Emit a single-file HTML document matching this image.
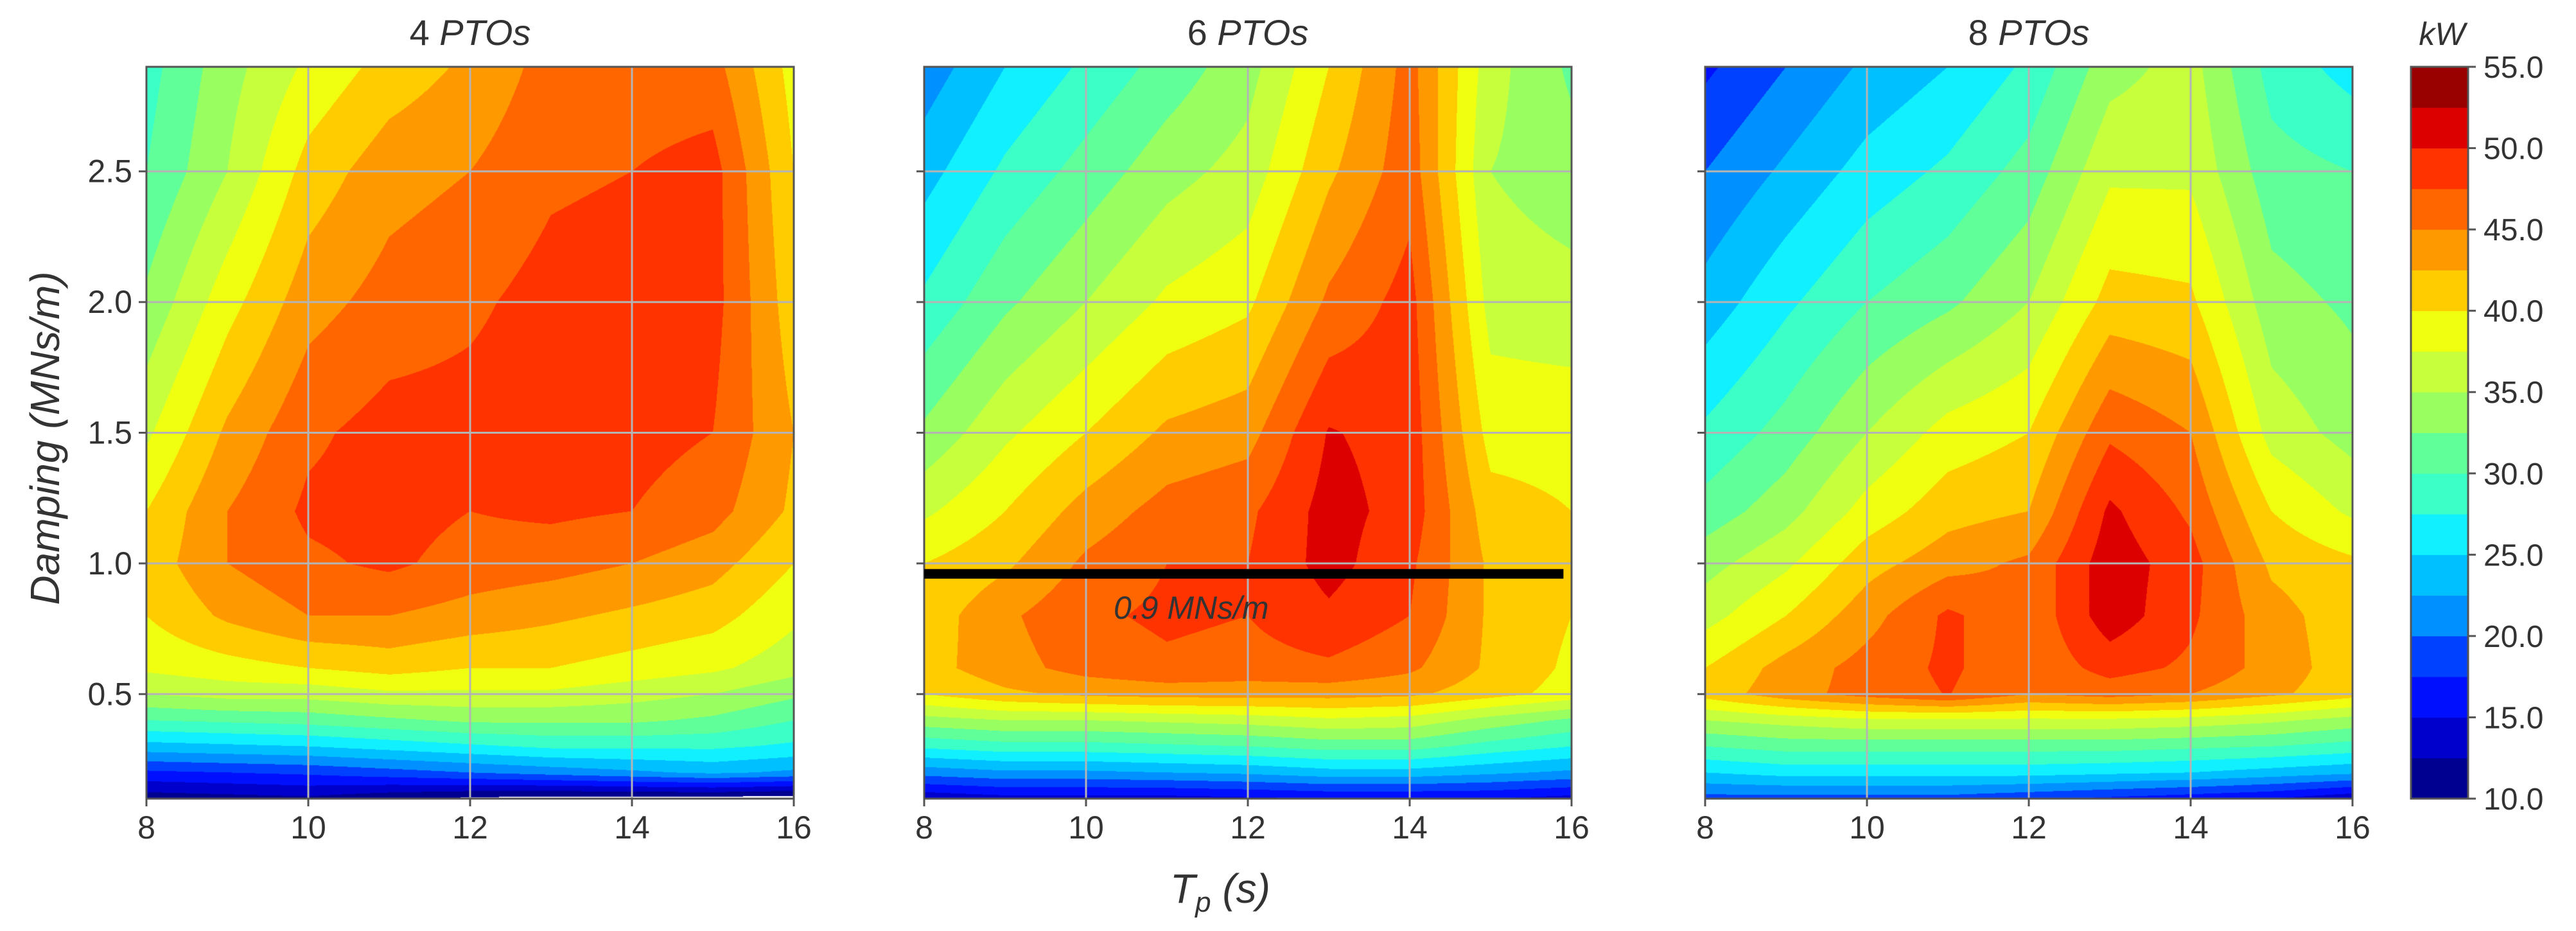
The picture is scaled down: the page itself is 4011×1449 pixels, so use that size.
<!DOCTYPE html>
<html><head><meta charset="utf-8">
<style>
html,body{margin:0;padding:0;background:#fff;}
#root{position:relative;width:4011px;height:1449px;overflow:hidden;background:#fff;}
canvas{position:absolute;}
svg{position:absolute;left:0;top:0;}
text{font-family:"Liberation Sans","DejaVu Sans",sans-serif;fill:#333;}
</style></head>
<body>
<div id="root">
<canvas id="c0" width="1008" height="1139" style="left:228px;top:104px"></canvas>
<canvas id="c1" width="1008" height="1139" style="left:1439px;top:104px"></canvas>
<canvas id="c2" width="1008" height="1139" style="left:2655px;top:104px"></canvas>
<svg id="ov" width="4011" height="1449"></svg>
</div>
<script>
// ---- data ----
const tpValues = [8,9,10,11,12,13,14,15,16];
const dampValues = [0.1,0.2,0.3,0.4,0.5,0.6,0.8,1.0,1.2,1.5,2.0,2.5,2.9];
// rows = damping (bottom->top), cols = Tp
const power4 = [
 [11,11.5,12,10.5,9.5,9,9,9,8.5],
 [17,17.5,18,19,20,21,22,23,22],
 [24,24.5,25,26,27,28,28,28,27],
 [30,30.5,31,32,33,33,33,32,30],
 [35,36,36,37,37,37,36,35,33],
 [38,39,40,41,40,40,39,38,36],
 [40,43,45,45,44,43,42,41,38],
 [41,45,47,48,46.5,46,45,43.5,40],
 [40,45,48,48.5,47.5,48,47.5,46,42],
 [37,43,47,48.5,48.5,49,48.5,47.5,42.5],
 [33,39,44,46,47,48.5,49,48.5,41],
 [30,35,41,44,45,47,47.5,48.5,40],
 [29,34,38,41,43,46,46,46,39]
];
const power6 = [
 [13,14,14,14,14.5,15,15,15,14],
 [21,22,22,22.5,23,24,24,23,22],
 [28,29,29,29.5,30,31,31,29,27.5],
 [34,35,35,35.5,36,37,36.5,34,32],
 [40,42,43,43.5,43.5,43.5,43,41,39],
 [41.5,44,46,47,46.5,47,45.5,42,39.5],
 [41,44.5,47,48,47.5,49.5,47.5,42,40],
 [40,42,45.5,47.5,47.5,51,48,42,40],
 [37,40,43.5,46,47,51,49,41,40],
 [33,37,40,43,44,50.2,49,39,39],
 [28,32,35,38,39.5,45.5,48.5,36.5,36],
 [24,28,31,34,36,42,46.5,35,33.5],
 [21,25,28,31,34,40,46,36,32]
];
const power8 = [
 [19,19,19,19,18,17,16,15,13],
 [25,26,26,26,26,25.5,25,24,23],
 [30,31,31,31,31,31,30.5,30,29],
 [35,36,37,37,37,37,36.5,35.5,34],
 [41,44,46,47.6,45,46,45,43,41],
 [40,43.5,46,48,45.5,48.5,47,44,41],
 [36.5,40,44,48,45.5,51.5,48,43.5,41],
 [34,37,41.5,44,45.5,51.5,48.5,42,40.5],
 [31,34,38.5,41.5,42.5,50.5,47,40,37],
 [28,31,35,38.5,40,47,45,36.5,34],
 [23.5,27,30,32,35,41,40.5,33.5,32],
 [20,23,26,28,31,37,37,31,30],
 [17,20,23,25,28,34,36,29,26.5]
];
const panelTitles = ["4","6","8"];
const levelStart = 10, levelStep = 2.5, levelCount = 18;
const bandColors = ["#000090","#0000cc","#0010ff","#0040ff","#0090ff","#00c0ff","#10f0ff","#3cffc8","#60ff99","#99ff60","#c8ff3c","#f0ff10","#ffcc00","#ff9900","#ff6600","#ff3300","#dd0000","#990000"];
const xTicks = [8,10,12,14,16];
const yTicks = [0.5,1.0,1.5,2.0,2.5];
const cbTicks = [10,15,20,25,30,35,40,45,50,55];
const refDamping = 0.96;

// ---- layout ----
const panelLeft = [228,1439,2655], PW = 1008, PT = 104, PB = 1243, PH = PB-PT;
const xMin=8,xMax=16,yMin=0.1,yMax=2.9;
function sx(p,v){return panelLeft[p]+(v-xMin)/(xMax-xMin)*PW;}
function sy(v){return PB-(v-yMin)/(yMax-yMin)*PH;}

function hexRGB(h){return [parseInt(h.substr(1,2),16),parseInt(h.substr(3,2),16),parseInt(h.substr(5,2),16)];}
const rgbBands = bandColors.map(hexRGB);
function seg(arr,v){for(let i=0;i<arr.length-1;i++){if(v<=arr[i+1])return i;}return arr.length-2;}
function interp(grid,tp,d){
  const i=seg(tpValues,tp), j=seg(dampValues,d);
  const tx=(tp-tpValues[i])/(tpValues[i+1]-tpValues[i]);
  const ty=Math.max(0,Math.min(1,(d-dampValues[j])/(dampValues[j+1]-dampValues[j])));
  const a=grid[j][i],b=grid[j][i+1],c=grid[j+1][i],e=grid[j+1][i+1];
  return a*(1-tx)*(1-ty)+b*tx*(1-ty)+c*(1-tx)*ty+e*tx*ty;
}
[power4,power6,power8].forEach((grid,p)=>{
  const cv=document.getElementById('c'+p), ctx=cv.getContext('2d');
  const img=ctx.createImageData(PW,PH), dat=img.data;
  for(let y=0;y<PH;y++){
    const d=yMax-(y+0.5)/PH*(yMax-yMin);
    for(let x=0;x<PW;x++){
      const tp=xMin+(x+0.5)/PW*(xMax-xMin);
      const v=interp(grid,tp,d);
      let col=[255,255,255];
      if(v>=levelStart){let k=Math.floor((v-levelStart)/levelStep);if(k>levelCount-1)k=levelCount-1;col=rgbBands[k];}
      const o=(y*PW+x)*4;dat[o]=col[0];dat[o+1]=col[1];dat[o+2]=col[2];dat[o+3]=255;
    }
  }
  ctx.putImageData(img,0,0);
});

// ---- overlay ----
const NS="http://www.w3.org/2000/svg", ov=document.getElementById('ov');
function el(tag,attrs,txt){const e=document.createElementNS(NS,tag);for(const k in attrs)e.setAttribute(k,attrs[k]);if(txt!==undefined)e.textContent=txt;ov.appendChild(e);return e;}

for(let p=0;p<3;p++){
  xTicks.forEach(t=>{const g=el('line',{x1:sx(p,t),x2:sx(p,t),y1:PT,y2:PB,stroke:'#b4b4b4','stroke-width':3});
    
    });
  yTicks.forEach(t=>{const g=el('line',{x1:panelLeft[p],x2:panelLeft[p]+PW,y1:sy(t),y2:sy(t),stroke:'#b4b4b4','stroke-width':3});
    
    });
  const fr=el('rect',{x:panelLeft[p],y:PT,width:PW,height:PH,fill:'none',stroke:'#555','stroke-width':3});
  
  
  xTicks.forEach(t=>{
    el('line',{x1:sx(p,t),x2:sx(p,t),y1:PB,y2:PB+12,stroke:'#555','stroke-width':3});
    const lb=el('text',{x:sx(p,t),y:PB+62,'font-size':50,'text-anchor':'middle'},String(t));
    
    
  });
  yTicks.forEach(t=>{
    el('line',{x1:panelLeft[p]-12,x2:panelLeft[p],y1:sy(t),y2:sy(t),stroke:'#555','stroke-width':3});
    if(p===0){const lb=el('text',{x:panelLeft[p]-22,y:sy(t)+17,'font-size':50,'text-anchor':'end'},t.toFixed(1));
      
      }
  });
  const tt=el('text',{x:panelLeft[p]+PW/2,y:70,'font-size':56,'text-anchor':'middle'});
  
  
  const s1=document.createElementNS(NS,'tspan');s1.textContent=panelTitles[p]+' ';tt.appendChild(s1);
  const s2=document.createElementNS(NS,'tspan');s2.setAttribute('font-style','italic');s2.textContent='PTOs';tt.appendChild(s2);
}
const rl=el('line',{x1:sx(1,8),x2:sx(1,15.9),y1:sy(refDamping),y2:sy(refDamping),stroke:'#000','stroke-width':15});


const rt=el('text',{x:sx(1,11.3),y:sy(refDamping)+70,'font-size':50,'text-anchor':'middle','font-style':'italic',fill:'#111'},'0.9 MNs/m');



const yl=el('text',{x:0,y:0,'font-size':64,'text-anchor':'middle','font-style':'italic',transform:'translate(92,682) rotate(-90)'},'Damping (MNs/m)');


const xl=el('text',{x:1900,y:1405,'font-size':64,'text-anchor':'middle','font-style':'italic'});


const xa=document.createElementNS(NS,'tspan');xa.textContent='T';xl.appendChild(xa);
const xb=document.createElementNS(NS,'tspan');xb.setAttribute('font-size','44');xb.setAttribute('dy','14');xb.textContent='p';xl.appendChild(xb);
const xc=document.createElementNS(NS,'tspan');xc.setAttribute('dy','-14');xc.textContent=' (s)';xl.appendChild(xc);

const cbL=3754, cbW=89, cbMin=10, cbMax=55;
function cy(v){return PB-(v-cbMin)/(cbMax-cbMin)*PH;}
for(let k=0;k<levelCount;k++){
  const lo=levelStart+k*levelStep, hi=lo+levelStep;
  const r=el('rect',{x:cbL,y:cy(hi),width:cbW,height:cy(lo)-cy(hi)+0.5,fill:bandColors[k]});
  
  
}
const cbf=el('rect',{x:cbL,y:PT,width:cbW,height:PH,fill:'none',stroke:'#555','stroke-width':3});


cbTicks.forEach(t=>{
  el('line',{x1:cbL+cbW,x2:cbL+cbW+12,y1:cy(t),y2:cy(t),stroke:'#555','stroke-width':3});
  const lb=el('text',{x:cbL+cbW+24,y:cy(t)+17,'font-size':48},t.toFixed(1));
  
  
});
const kw=el('text',{x:cbL+cbW/2+4,y:70,'font-size':50,'text-anchor':'middle','font-style':'italic'},'kW');


</script>
</body></html>
